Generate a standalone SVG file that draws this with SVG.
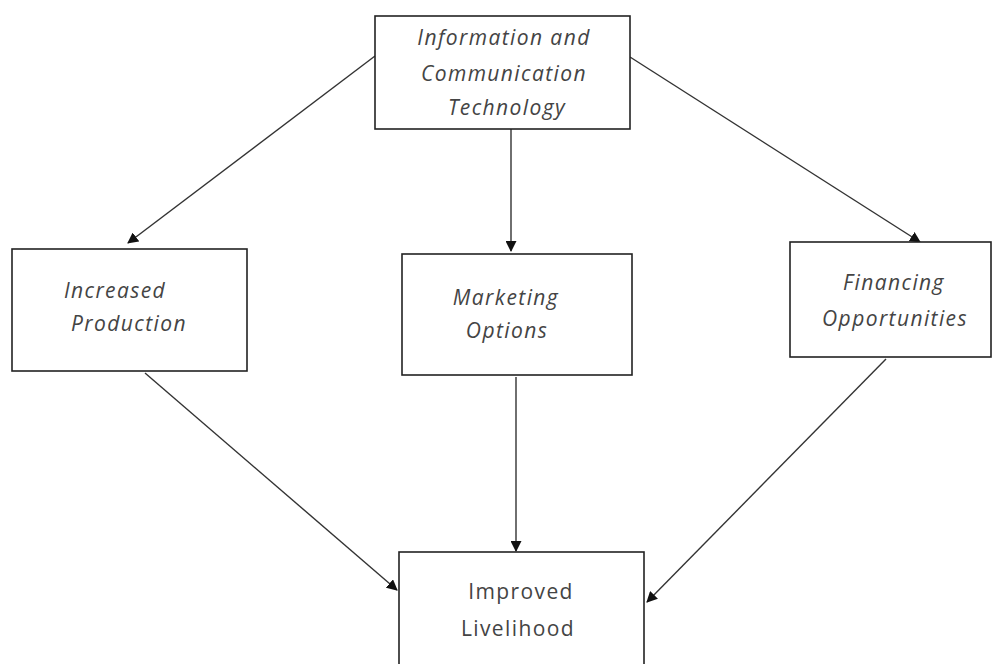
<svg xmlns="http://www.w3.org/2000/svg" width="993" height="664" viewBox="0 0 993 664">
<style>
.box{fill:#fff;stroke:#222;stroke-width:1.6}
.t{font-family:"Open Sans","Liberation Sans",sans-serif;font-size:21px;letter-spacing:1.4px;font-style:italic;fill:#444;text-anchor:middle}
.n{font-style:normal}
.c{stroke:#333;stroke-width:1.4;fill:none;marker-end:url(#ah)}
</style>
<defs>
<marker id="ah" markerWidth="11" markerHeight="11" refX="10" refY="5.5" orient="auto" markerUnits="userSpaceOnUse">
<path d="M0,0 L11,5.5 L0,11 z" fill="#111"/>
</marker>
</defs>
<rect width="993" height="664" fill="#fff"/>
<g id="connectors">
<line class="c" x1="375" y1="56" x2="128" y2="243"/>
<line class="c" x1="511" y1="129" x2="511" y2="251"/>
<line class="c" x1="630" y1="57" x2="920" y2="242"/>
<line class="c" x1="145" y1="373" x2="397" y2="590"/>
<line class="c" x1="516" y1="377" x2="516" y2="551"/>
<line class="c" x1="886" y1="359" x2="647" y2="602"/>
</g>
<g id="ict">
<rect class="box" x="375" y="16" width="255" height="113"/>
<text class="t" x="504" y="45">Information and</text>
<text class="t" x="504" y="81">Communication</text>
<text class="t" x="507" y="115">Technology</text>
</g>
<g id="production">
<rect class="box" x="12" y="249" width="235" height="122"/>
<text class="t" x="115" y="298">Increased</text>
<text class="t" x="129" y="331">Production</text>
</g>
<g id="marketing">
<rect class="box" x="402" y="254" width="230" height="121"/>
<text class="t" x="506" y="305">Marketing</text>
<text class="t" x="507" y="338">Options</text>
</g>
<g id="financing">
<rect class="box" x="790" y="242" width="201" height="115"/>
<text class="t" x="894" y="290">Financing</text>
<text class="t" x="895" y="326">Opportunities</text>
</g>
<g id="livelihood">
<rect class="box" x="399" y="552" width="245" height="120"/>
<text class="t n" x="521" y="599">Improved</text>
<text class="t n" x="518" y="636">Livelihood</text>
</g>
</svg>
